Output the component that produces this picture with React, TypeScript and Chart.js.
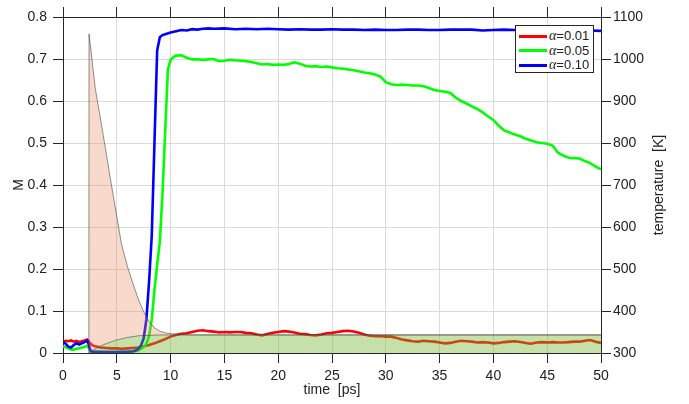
import React, { useEffect, useRef } from 'react';
import { Chart, registerables } from 'chart.js';
Chart.register(...registerables);

const FONT = "'Liberation Sans', Arial, Helvetica, sans-serif";
const TEXT = '#222222';
const AXIS = '#262626';
const GRID = '#dadada';

const xTitle = 'time  [ps]';
const yTitle = 'M';
const y2Title = 'temperature  [K]';
const legendLabels = ['0.01', '0.05', '0.10'];

// M(t) for alpha = 0.01  [time ps, M]
const redSeries = [
  [0, 0.027], [0.25, 0.029], [0.5, 0.028], [0.75, 0.030], [1, 0.027], [1.25, 0.029], [1.5, 0.026], [1.75, 0.028],
  [2, 0.030], [2.25, 0.032], [2.5, 0.024], [2.75, 0.018], [3, 0.016], [3.5, 0.013], [4, 0.012], [4.5, 0.011],
  [5, 0.011], [5.5, 0.010], [6, 0.011], [6.5, 0.012], [7, 0.013], [7.5, 0.016], [8, 0.019], [8.5, 0.023],
  [9, 0.028], [9.5, 0.033], [10, 0.039], [10.5, 0.043], [11, 0.046], [11.5, 0.047], [12, 0.050], [12.5, 0.053],
  [13, 0.054], [13.5, 0.052], [14, 0.051], [14.5, 0.049], [15, 0.050], [15.5, 0.049], [16, 0.050], [16.5, 0.050],
  [17, 0.048], [17.5, 0.047], [18, 0.044], [18.5, 0.042], [19, 0.045], [19.5, 0.048], [20, 0.050], [20.5, 0.052],
  [21, 0.051], [21.5, 0.049], [22, 0.046], [22.5, 0.045], [23, 0.043], [23.5, 0.042], [24, 0.044], [24.5, 0.047],
  [25, 0.048], [25.5, 0.050], [26, 0.052], [26.5, 0.053], [27, 0.051], [27.5, 0.048], [28, 0.044], [28.5, 0.041],
  [29, 0.040], [29.5, 0.040], [30, 0.039], [30.5, 0.039], [31, 0.036], [31.5, 0.032], [32, 0.030], [32.5, 0.028],
  [33, 0.027], [33.5, 0.029], [34, 0.028], [34.5, 0.027], [35, 0.025], [35.5, 0.023], [36, 0.024], [36.5, 0.027],
  [37, 0.029], [37.5, 0.028], [38, 0.027], [38.5, 0.025], [39, 0.026], [39.5, 0.025], [40, 0.023], [40.5, 0.024],
  [41, 0.026], [41.5, 0.027], [42, 0.028], [42.5, 0.026], [43, 0.024], [43.5, 0.022], [44, 0.025], [44.5, 0.026],
  [45, 0.025], [45.5, 0.026], [46, 0.025], [46.5, 0.025], [47, 0.026], [47.5, 0.027], [48, 0.027], [48.5, 0.029],
  [49, 0.031], [49.5, 0.027], [50, 0.024],
];

// M(t) for alpha = 0.05
const greenSeries = [
  [0, 0.016], [0.25, 0.014], [0.5, 0.011], [0.75, 0.008], [1, 0.008], [1.25, 0.010], [1.5, 0.011], [1.75, 0.013],
  [2, 0.015], [2.25, 0.017], [2.4, 0.012], [2.55, 0.004], [2.75, 0.002], [4, 0.002], [5, 0.002], [6, 0.002],
  [6.5, 0.003], [7, 0.006], [7.5, 0.014], [7.75, 0.022], [8, 0.040], [8.25, 0.080], [8.5, 0.150], [8.75, 0.210],
  [9, 0.265], [9.25, 0.380], [9.5, 0.530], [9.75, 0.675], [10, 0.698], [10.25, 0.704], [10.5, 0.708], [11, 0.709],
  [11.5, 0.703], [12, 0.699], [12.5, 0.699], [13, 0.698], [13.5, 0.699], [14, 0.700], [14.5, 0.695], [15, 0.696],
  [15.5, 0.698], [16, 0.697], [16.5, 0.696], [17, 0.695], [17.5, 0.693], [18, 0.690], [18.5, 0.687], [19, 0.688],
  [19.5, 0.686], [20, 0.687], [20.5, 0.686], [21, 0.688], [21.5, 0.692], [22, 0.689], [22.5, 0.684], [23, 0.682],
  [23.5, 0.683], [24, 0.681], [24.5, 0.682], [25, 0.680], [25.5, 0.678], [26, 0.677], [26.5, 0.675], [27, 0.673],
  [27.5, 0.671], [28, 0.668], [28.5, 0.666], [29, 0.663], [29.5, 0.658], [30, 0.645], [30.5, 0.640], [31, 0.638],
  [31.5, 0.639], [32, 0.638], [32.5, 0.637], [33, 0.637], [33.5, 0.635], [34, 0.631], [34.5, 0.626], [35, 0.624],
  [35.5, 0.622], [36, 0.619], [36.5, 0.608], [37, 0.600], [37.5, 0.594], [38, 0.587], [38.5, 0.581], [39, 0.573],
  [39.5, 0.563], [40, 0.555], [40.5, 0.541], [41, 0.530], [41.5, 0.525], [42, 0.520], [42.5, 0.516], [43, 0.510],
  [43.5, 0.506], [44, 0.502], [44.5, 0.500], [45, 0.498], [45.5, 0.494], [46, 0.477], [46.5, 0.470], [47, 0.465],
  [47.5, 0.464], [48, 0.463], [48.5, 0.457], [49, 0.452], [49.5, 0.444], [50, 0.437],
];

// M(t) for alpha = 0.10
const blueSeries = [
  [0, 0.026], [0.25, 0.022], [0.5, 0.015], [0.75, 0.013], [1, 0.019], [1.25, 0.023], [1.5, 0.020], [1.75, 0.023],
  [2, 0.026], [2.25, 0.029], [2.4, 0.020], [2.55, 0.006], [2.75, 0.003], [3.5, 0.003], [4.5, 0.002], [5.5, 0.003],
  [6, 0.003], [6.5, 0.004], [6.75, 0.006], [7, 0.010], [7.25, 0.018], [7.5, 0.035], [7.75, 0.080], [8, 0.170],
  [8.25, 0.280], [8.5, 0.500], [8.75, 0.720], [9, 0.752], [9.25, 0.757], [9.5, 0.759], [10, 0.763], [10.5, 0.766],
  [11, 0.769], [11.5, 0.768], [12, 0.771], [12.5, 0.770], [13, 0.772], [13.5, 0.773], [14, 0.772], [15, 0.773],
  [16, 0.771], [17, 0.772], [18, 0.771], [19, 0.772], [20, 0.771], [21, 0.770], [22, 0.771], [23, 0.770],
  [24, 0.770], [25, 0.771], [26, 0.770], [27, 0.770], [28, 0.769], [29, 0.770], [30, 0.769], [31, 0.769],
  [32, 0.770], [33, 0.770], [34, 0.769], [35, 0.769], [36, 0.770], [37, 0.770], [38, 0.770], [39, 0.768],
  [40, 0.769], [41, 0.770], [42, 0.769], [43, 0.770], [44, 0.769], [45, 0.769], [46, 0.768], [47, 0.769],
  [48, 0.769], [49, 0.768], [50, 0.767],
];

// electron temperature [time ps, K]
const electronTemp = [
  [2.4, 300], [2.42, 1060], [3, 930], [3.66, 831], [4.5, 700], [5, 625], [5.43, 560], [6, 505], [6.5, 465],
  [7, 428], [7.5, 398], [8, 375], [8.5, 360], [9, 352], [9.5, 348], [10, 346], [11, 344], [12, 343], [50, 343],
];

// lattice temperature [time ps, K]
const latticeTemp = [
  [2.4, 300], [2.8, 307], [3.2, 313], [3.6, 318], [4, 322], [4.5, 327], [5, 331], [5.5, 334], [6, 337],
  [6.5, 339], [7, 341], [8, 342], [9, 343], [50, 343],
];

const toPts = (arr: number[][]) => arr.map(([x, y]) => ({ x, y }));

export default function App() {
  const ref = useRef<HTMLCanvasElement>(null);

  useEffect(() => {
    if (!ref.current) return;
    const rightTitle = {
      id: 'rightTitle',
      afterDraw(chart: any) {
        const ctx = chart.ctx;
        const ca = chart.chartArea;
        ctx.save();
        ctx.font = `14px ${FONT}`;
        ctx.fillStyle = TEXT;
        ctx.textAlign = 'center';
        ctx.textBaseline = 'middle';
        ctx.translate(659, (ca.top + ca.bottom) / 2);
        ctx.rotate(-Math.PI / 2);
        ctx.fillText(y2Title, 0, 0);
        ctx.restore();
      },
    };
    const tickFont = { family: FONT, size: 14 };
    const chart = new Chart(ref.current, {
      type: 'line',
      data: {
        datasets: [
          { label: 'a1', data: toPts(redSeries), borderColor: '#ff0000', borderWidth: 2.6, pointRadius: 0, fill: false, yAxisID: 'y', xAxisID: 'x', order: 4, tension: 0 },
          { label: 'a5', data: toPts(greenSeries), borderColor: '#00ff00', borderWidth: 2.6, pointRadius: 0, fill: false, yAxisID: 'y', xAxisID: 'x', order: 3, tension: 0 },
          { label: 'a10', data: toPts(blueSeries), borderColor: '#0000ff', borderWidth: 2.6, pointRadius: 0, fill: false, yAxisID: 'y', xAxisID: 'x', order: 2, tension: 0 },
          { label: 'Te', data: toPts(electronTemp), borderColor: 'rgba(70,70,70,0.85)', borderWidth: 0.7, backgroundColor: 'rgba(232,140,100,0.32)', pointRadius: 0, fill: '+1', yAxisID: 'y2', xAxisID: 'x', order: 1, tension: 0 },
          { label: 'Tl', data: toPts(latticeTemp), borderColor: 'rgba(70,70,70,0.85)', borderWidth: 0.7, backgroundColor: 'rgba(110,180,40,0.4)', pointRadius: 0, fill: 'start', yAxisID: 'y2', xAxisID: 'x', order: 0, tension: 0 },
        ],
      },
      options: {
        animation: false,
        responsive: false,
        devicePixelRatio: 1,
        layout: { padding: 0 },
        plugins: { legend: { display: false }, tooltip: { enabled: false } },
        scales: {
          x: {
            type: 'linear', position: 'bottom', min: 0, max: 50,
            ticks: { stepSize: 5, padding: 5, color: TEXT, font: tickFont, maxRotation: 0, autoSkip: false, callback: (v: any) => String(v) },
            grid: { color: GRID, tickColor: AXIS, tickLength: 10, lineWidth: 1 },
            border: { color: AXIS, width: 1 },
            title: { display: true, text: xTitle, color: TEXT, font: tickFont, padding: { top: 0, bottom: 5 } },
            afterFit: (s: any) => { s.height = 51; },
          },
          x2: {
            type: 'linear', position: 'top', min: 0, max: 50,
            ticks: { stepSize: 5, display: false },
            grid: { drawOnChartArea: false, color: GRID, tickColor: AXIS, tickLength: 10 },
            border: { color: AXIS, width: 1 },
            afterFit: (s: any) => { s.height = 17; },
          },
          y: {
            type: 'linear', position: 'left', min: 0, max: 0.8,
            ticks: { stepSize: 0.1, padding: 6, color: TEXT, font: tickFont },
            grid: { color: GRID, tickColor: AXIS, tickLength: 10, lineWidth: 1 },
            border: { color: AXIS, width: 1 },
            title: { display: true, text: yTitle, color: TEXT, font: tickFont, padding: { top: 11, bottom: 0 } },
            afterFit: (s: any) => { s.width = 63; },
          },
          y2: {
            type: 'linear', position: 'right', min: 300, max: 1100,
            ticks: { stepSize: 100, padding: 2, color: TEXT, font: tickFont, callback: (v: any) => String(v) },
            grid: { drawOnChartArea: false, color: GRID, tickColor: AXIS, tickLength: 10 },
            border: { color: AXIS, width: 1 },
            afterFit: (s: any) => { s.width = 88; },
          },
        },
      } as any,
      plugins: [rightTitle],
    });
    return () => chart.destroy();
  }, []);

  const legendColors = ['#ff0000', '#00ff00', '#0000ff'];
  const rowCenters = [10, 24.5, 39];

  return (
    <div style={{ position: 'absolute', left: 0, top: 0, width: 689, height: 404, background: '#fff' }}>
      <canvas ref={ref} width={689} height={404} style={{ display: 'block', width: 689, height: 404 }} />
      <div
        style={{
          position: 'absolute', left: 515, top: 25, width: 79, height: 48, boxSizing: 'border-box',
          background: '#fff', border: `1px solid ${AXIS}`, fontFamily: FONT, fontSize: 13, color: TEXT,
        }}
      >
        {legendLabels.map((lab, i) => (
          <div key={lab} style={{ position: 'absolute', left: 0, top: rowCenters[i] - 9, height: 18, width: 77 }}>
            <div style={{ position: 'absolute', left: 3, top: 7.5, width: 28, height: 3, background: legendColors[i] }} />
            <div style={{ position: 'absolute', left: 33, top: 0, lineHeight: '18px', whiteSpace: 'nowrap' }}>
              <span style={{ fontFamily: "'Liberation Serif', 'DejaVu Serif', serif", fontStyle: 'italic', fontSize: 14 }}>α</span>
              ={lab}
            </div>
          </div>
        ))}
      </div>
    </div>
  );
}
